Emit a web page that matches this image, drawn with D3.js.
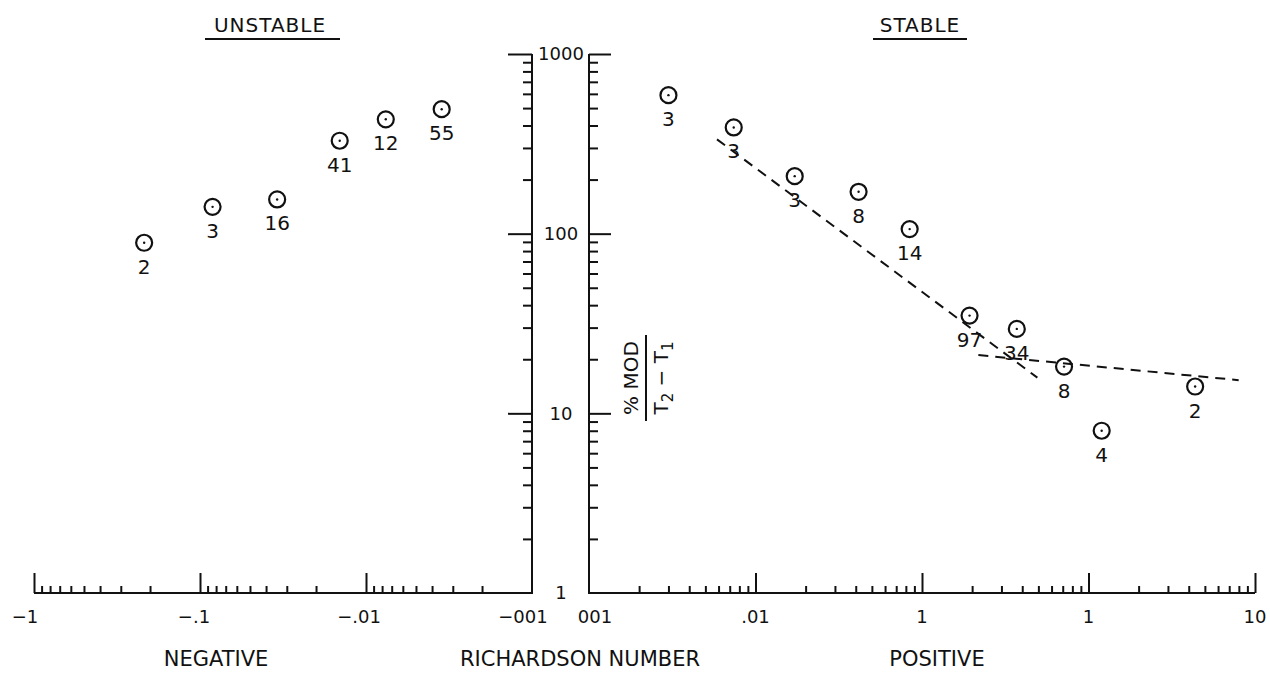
<!DOCTYPE html>
<html>
<head>
<meta charset="utf-8">
<script src="https://cdn.jsdelivr.net/npm/d3@7"></script>
<style>
  body { margin: 0; background: #fff; }
  text { font-family: "DejaVu Sans", sans-serif; fill: #111; }
</style>
</head>
<body>
<div class="chart"></div>
<script>
// unstable side: |Ri| (negative Richardson number), %MOD/(T2-T1), count
const negRi = [0.217, 0.084, 0.0343, 0.0144, 0.0076, 0.0035]
const negMod = [89, 141, 155, 329, 433, 493]
const negN = ['2', '3', '16', '41', '12', '55']

// stable side
const posRi = [0.0030, 0.0074, 0.0172, 0.0416, 0.0843, 0.193, 0.371, 0.713, 1.2, 4.37]
const posMod = [590, 390, 209, 171, 106, 35, 29.5, 18.2, 8.0, 14.1]
const posN = ['3', '3', '3', '8', '14', '97', '34', '8', '4', '2']

// dashed fit lines (Ri, value)
const fitA = [[0.00587, 335], [0.493, 15.8]]
const fitB = [[0.218, 21.1], [7.98, 15.3]]

const negTickLabels = ['\u22121', '\u2212.1', '\u2212.01', '\u2212001']
const negTickVals = [1, 0.1, 0.01, 0.001]
const posTickLabels = ['001', '.01', '1', '1', '10']
const posTickVals = [0.001, 0.01, 0.1, 1, 10]
const yTickVals = [1000, 100, 10, 1]

const svg = d3.select('.chart')
  .append('svg')
  .attr('width', 1270)
  .attr('height', 673)

const xNeg = d3.scaleLog().domain([1, 0.001]).range([34, 532])
const xPos = d3.scaleLog().domain([0.001, 10]).range([589, 1255])
const y = d3.scaleLog().domain([1, 1000]).range([593, 54])

function minors(lo, hi) {
  let out = []
  for (let d = lo; d < hi * 0.999; d *= 10) {
    for (let k = 2; k <= 9; k++) out.push(d * k)
  }
  return out
}

function styleAxis(g) {
  g.select('.domain').remove()
  g.selectAll('line').attr('stroke', '#111').attr('stroke-width', 2)
  g.selectAll('text').remove()
}

// x axes (ticks pointing up)
svg.append('g').attr('transform', 'translate(0,593)')
  .call(d3.axisBottom(xNeg).tickValues(minors(0.001, 1)).tickSizeInner(-7))
  .call(styleAxis)
svg.append('g').attr('transform', 'translate(0,593)')
  .call(d3.axisBottom(xNeg).tickValues([1, 0.1, 0.01]).tickSizeInner(-20))
  .call(styleAxis)
svg.append('g').attr('transform', 'translate(0,593)')
  .call(d3.axisBottom(xPos).tickValues(minors(0.001, 10)).tickSizeInner(-7))
  .call(styleAxis)
svg.append('g').attr('transform', 'translate(0,593)')
  .call(d3.axisBottom(xPos).tickValues([0.01, 0.1, 1, 10]).tickSizeInner(-20))
  .call(styleAxis)

// y axes
svg.append('g').attr('transform', 'translate(532,0)')
  .call(d3.axisLeft(y).tickValues(minors(1, 1000)).tickSizeInner(9))
  .call(styleAxis)
svg.append('g').attr('transform', 'translate(532,0)')
  .call(d3.axisLeft(y).tickValues([10, 100, 1000]).tickSizeInner(24))
  .call(styleAxis)
svg.append('g').attr('transform', 'translate(589,0)')
  .call(d3.axisRight(y).tickValues(minors(1, 1000)).tickSizeInner(9))
  .call(styleAxis)
svg.append('g').attr('transform', 'translate(589,0)')
  .call(d3.axisRight(y).tickValues([10, 100, 1000]).tickSizeInner(22))
  .call(styleAxis)

// frame lines
svg.append('path')
  .attr('d', `M${xNeg(1)},${y(1)}H${xNeg(0.001)}V${y(1000)}`)
  .attr('fill', 'none').attr('stroke', '#111').attr('stroke-width', 2)
svg.append('path')
  .attr('d', `M${xPos(0.001)},${y(1000)}V${y(1)}H${xPos(10)}`)
  .attr('fill', 'none').attr('stroke', '#111').attr('stroke-width', 2)

// tick labels
const negDx = [-9, -6, -7, -9]
svg.selectAll('.nlab').data(negTickVals).enter().append('text')
  .attr('x', (d, i) => xNeg(d) + negDx[i]).attr('y', 623)
  .attr('text-anchor', 'middle')
  .style('font-size', '18px')
  .text((d, i) => negTickLabels[i])
svg.selectAll('.plab').data(posTickVals).enter().append('text')
  .attr('x', (d, i) => xPos(d) + (i === 0 ? 6 : 0)).attr('y', 623)
  .attr('text-anchor', 'middle')
  .style('font-size', '18px')
  .text((d, i) => posTickLabels[i])
svg.selectAll('.ylab').data(yTickVals).enter().append('text')
  .attr('x', 561).attr('y', d => y(d))
  .attr('dy', '0.36em')
  .attr('text-anchor', 'middle')
  .style('font-size', '18px')
  .text(d => d)

// titles
svg.append('text').attr('x', 270).attr('y', 32).attr('text-anchor', 'middle')
  .style('font-size', '20px').style('letter-spacing', '1px').text('UNSTABLE')
svg.append('line').attr('x1', 205).attr('x2', 340).attr('y1', 39).attr('y2', 39)
  .attr('stroke', '#111').attr('stroke-width', 2)
svg.append('text').attr('x', 920).attr('y', 32).attr('text-anchor', 'middle')
  .style('font-size', '20px').style('letter-spacing', '1px').text('STABLE')
svg.append('line').attr('x1', 873).attr('x2', 967).attr('y1', 39).attr('y2', 39)
  .attr('stroke', '#111').attr('stroke-width', 2)

svg.append('text').attr('x', 216).attr('y', 666).attr('text-anchor', 'middle')
  .style('font-size', '21px').text('NEGATIVE')
svg.append('text').attr('x', 580).attr('y', 666).attr('text-anchor', 'middle')
  .style('font-size', '21px').text('RICHARDSON NUMBER')
svg.append('text').attr('x', 937).attr('y', 666).attr('text-anchor', 'middle')
  .style('font-size', '21px').text('POSITIVE')

// y label as fraction, rotated
const yl = svg.append('g').attr('transform', 'translate(646,378) rotate(-90)')
yl.append('text').attr('x', 0).attr('y', -8).attr('text-anchor', 'middle')
  .style('font-size', '20px').text('% MOD')
yl.append('line').attr('x1', -43).attr('x2', 43).attr('y1', 0).attr('y2', 0)
  .attr('stroke', '#111').attr('stroke-width', 2)
const den = yl.append('text').attr('x', 0).attr('y', 22).attr('text-anchor', 'middle')
  .style('font-size', '20px')
den.append('tspan').text('T')
den.append('tspan').attr('dy', 5).style('font-size', '15px').text('2')
den.append('tspan').attr('dy', -5).text(' \u2212 T')
den.append('tspan').attr('dy', 5).style('font-size', '15px').text('1')

// dashed fits
const fitLine = d3.line().x(d => xPos(d[0])).y(d => y(d[1]))
svg.selectAll('.fit').data([fitA, fitB]).enter().append('path')
  .attr('d', fitLine)
  .attr('fill', 'none').attr('stroke', '#111').attr('stroke-width', 2)
  .attr('stroke-dasharray', '10,7')

// points
function drawPoints(xs, ys, ns, sc) {
  const g = svg.append('g')
  xs.forEach((v, i) => {
    const cx = sc(v), cy = y(ys[i])
    g.append('circle').attr('cx', cx).attr('cy', cy).attr('r', 8)
      .attr('fill', 'none').attr('stroke', '#111').attr('stroke-width', 2.2)
    g.append('circle').attr('cx', cx).attr('cy', cy).attr('r', 1.2).attr('fill', '#111')
    g.append('text').attr('x', cx).attr('y', cy + 31).attr('text-anchor', 'middle')
      .style('font-size', '20px').text(ns[i])
  })
}
drawPoints(negRi, negMod, negN, xNeg)
drawPoints(posRi, posMod, posN, xPos)
</script>
</body>
</html>
